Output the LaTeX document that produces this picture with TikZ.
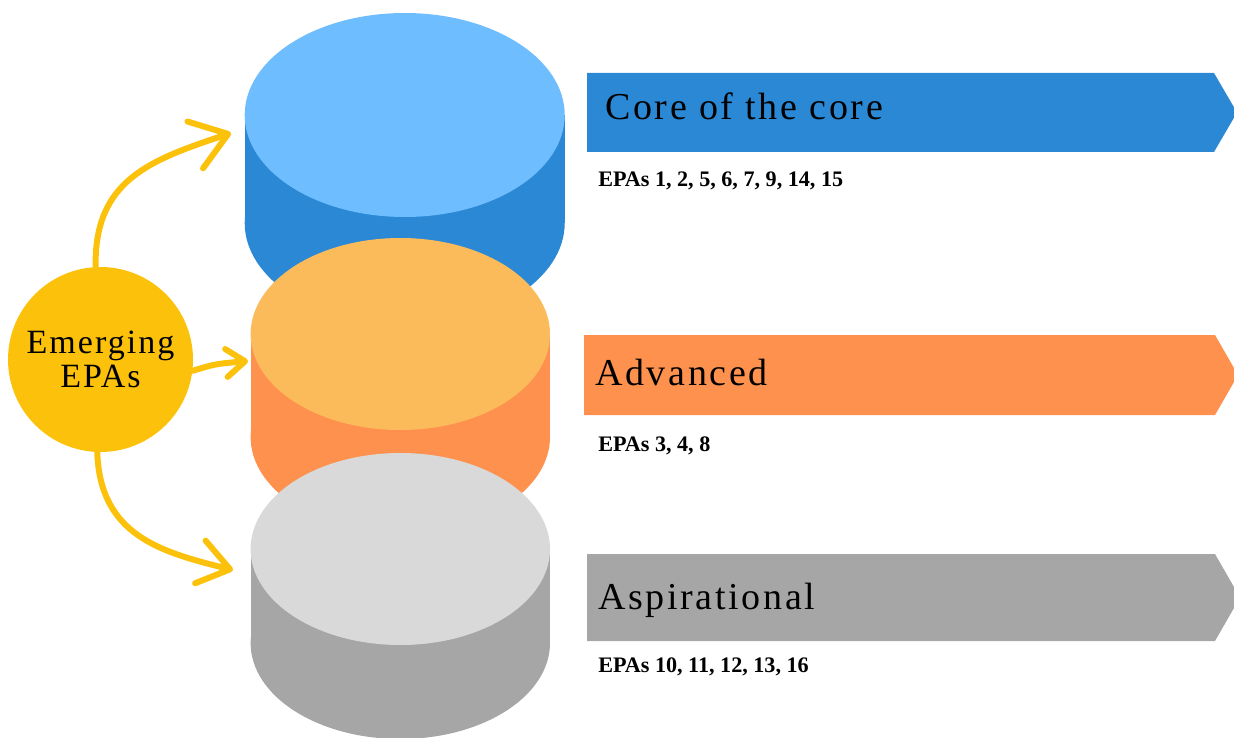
\documentclass[tikz,border=0pt]{standalone}
\usepackage{fontspec}
\usetikzlibrary{arrows.meta}
\newfontfamily\titlefont[LetterSpace=7]{Liberation Serif}
\newfontfamily\emfont[LetterSpace=6]{Liberation Serif}
\newfontfamily\lblfont{Liberation Serif}
\definecolor{emy}{HTML}{FCC10B}
\definecolor{bluetop}{HTML}{6EBDFE}
\definecolor{blueside}{HTML}{2B88D4}
\definecolor{orgtop}{HTML}{FCBB5B}
\definecolor{orgside}{HTML}{FE914D}
\definecolor{graytop}{HTML}{D9D9D9}
\definecolor{grayside}{HTML}{A6A6A6}
\newcommand\mycyl[7]{%
  \fill[#6] (#1-#4,#2) rectangle (#1+#4,#3);
  \fill[#6] (#1,#3) ellipse[x radius={#4*0.75pt}, y radius={#5*0.75pt}];
  \fill[#7] (#1,#2) ellipse[x radius={#4*0.75pt}, y radius={#5*0.75pt}];}
\tikzset{
  arr/.style={draw=emy, line width=4.5pt, line cap=round},
  bartitle/.style={anchor=base west, inner sep=0pt, text=black, font=\titlefont\fontsize{28.5}{31}\selectfont},
  epalbl/.style={anchor=base west, inner sep=0pt, text=black, font=\lblfont\bfseries\fontsize{16.6}{19}\selectfont}
}
\begin{document}
\begin{tikzpicture}[x=0.75pt,y=-0.75pt]
\useasboundingbox (0,0) rectangle (1234,738);
% cylinders
\mycyl{404.7}{115}{223}{160}{102}{blueside}{bluetop}
\mycyl{400.3}{334}{437}{149.7}{96}{orgside}{orgtop}
\mycyl{400.3}{549}{643}{149.7}{96}{grayside}{graytop}
% bars
\fill[blueside] (587,73) -- (1214,73) -- (1237,112.5) -- (1214,152) -- (587,152) -- cycle;
\fill[orgside] (584,335) -- (1215,335) -- (1238,375) -- (1215,415) -- (584,415) -- cycle;
\fill[grayside] (587,554) -- (1215,554) -- (1240,597.5) -- (1215,641) -- (587,641) -- cycle;
% titles
\node[bartitle] (t-core) at (605,120) {Core of the core};
\node[bartitle] (t-adv) at (595,385) {Advanced};
\node[bartitle] (t-asp) at (598,609) {Aspirational};
\node[epalbl] (l-core) at (598,186) {EPAs 1, 2, 5, 6, 7, 9, 14, 15};
\node[epalbl] (l-adv) at (598,451) {EPAs 3, 4, 8};
\node[epalbl] (l-asp) at (598,672) {EPAs 10, 11, 12, 13, 16};
% emerging circle
\node[circle, fill=emy, inner sep=0pt, minimum size=138.75pt, align=center,
      font=\emfont\fontsize{25.5}{25.5}\selectfont] (em) at (100.5,359.5) {Emerging\\EPAs};
% arrow targets
\coordinate (t1) at (231,133);
\coordinate (t2) at (248,361);
\coordinate (t3) at (233,570);
\draw[arr, -{Straight Barb[length=26pt,width=37pt,round]}] (em.93) .. controls (94,180) and (150,160) .. (t1);
\draw[arr, -{Straight Barb[length=14pt,width=21pt,round]}] (em.-7) .. controls (215,364) .. (t2);
\draw[arr, -{Straight Barb[length=23pt,width=33pt,round]}] (em.-92) .. controls (100,535) and (160,552) .. (t3);
\end{tikzpicture}
\end{document}
